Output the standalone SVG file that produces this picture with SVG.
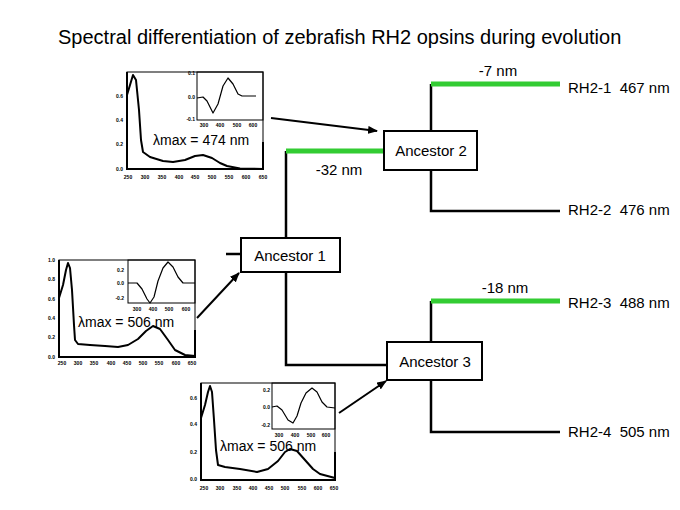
<svg xmlns="http://www.w3.org/2000/svg" width="680" height="510" viewBox="0 0 680 510">
<defs>
<marker id="ah" markerWidth="10" markerHeight="8" refX="9" refY="4" orient="auto" markerUnits="userSpaceOnUse">
<path d="M0,0 L10,4 L0,8 Z" fill="#000"/>
</marker>
<style>
text{font-family:"Liberation Sans",Arial,sans-serif;fill:#000}
.title{font-size:20px}
.lbl{font-size:15px}
.node{font-size:15px;text-anchor:middle}
.lam{font-size:14px}
.tk{font-size:5px;font-weight:bold}
.tkr{font-size:5px;font-weight:bold;text-anchor:end}
.tkm{font-size:5px;font-weight:bold;text-anchor:middle}
.frame{fill:none;stroke:#000;stroke-width:1}
.axis{fill:none;stroke:#000;stroke-width:2}
.curve{fill:none;stroke:#000;stroke-width:2;stroke-linejoin:round}
.icurve{fill:none;stroke:#000;stroke-width:1.2;stroke-linejoin:round}
.box{fill:#fff;stroke:#000;stroke-width:2}
.br{fill:none;stroke:#000;stroke-width:2.5}
.gr{fill:none;stroke:#33cc33;stroke-width:5}
.arr{fill:none;stroke:#000;stroke-width:2;marker-end:url(#ah)}
</style>
</defs>
<rect width="680" height="510" fill="#fff"/>
<text class="title" x="58" y="44">Spectral differentiation of zebrafish RH2 opsins during evolution</text>

<g id="connectors">
<path class="br" d="M286,151 V238"/>
<path class="gr" d="M286,151 H384"/>
<path class="br" d="M286,272 V365 H387"/>
<path class="br" d="M226,254 H241"/>
<path class="br" d="M431,131 V84"/>
<path class="gr" d="M431,84 H560"/>
<path class="br" d="M431,170 V211 H560"/>
<path class="br" d="M431,342 V301"/>
<path class="gr" d="M431,301 H560"/>
<path class="br" d="M431,380 V432 H560"/>
<path class="arr" d="M271,118 L377,131"/>
<path class="arr" d="M197,318 L239,273"/>
<path class="arr" d="M339,413 L386,381"/>
</g>

<g id="ancestor1"><rect class="box" x="241" y="238" width="99" height="34"/><text class="node" x="290" y="261">Ancestor 1</text></g>
<g id="ancestor2"><rect class="box" x="384" y="131" width="93" height="39"/><text class="node" x="431" y="156">Ancestor 2</text></g>
<g id="ancestor3"><rect class="box" x="387" y="342" width="95" height="38"/><text class="node" x="435" y="367">Ancestor 3</text></g>

<g id="labels">
<text class="lbl" x="498" y="76" text-anchor="middle">-7 nm</text>
<text class="lbl" x="339" y="175" text-anchor="middle">-32 nm</text>
<text class="lbl" x="505" y="293" text-anchor="middle">-18 nm</text>
</g>
<g id="rh2-1"><text class="lbl" x="568" y="93">RH2-1&#160; 467 nm</text></g>
<g id="rh2-2"><text class="lbl" x="568" y="215">RH2-2&#160; 476 nm</text></g>
<g id="rh2-3"><text class="lbl" x="568" y="308">RH2-3&#160; 488 nm</text></g>
<g id="rh2-4"><text class="lbl" x="568" y="437">RH2-4&#160; 505 nm</text></g>

<g id="chart-top">
<rect class="frame" x="127" y="72" width="136" height="97"/>
<path class="axis" d="M127,72 V169 H263 V142"/>
<rect class="frame" x="197" y="72" width="66" height="48"/>
<path class="curve" d="M127,95 L130,85 L133,75 L136,80 L139,110 L141,140 L143,152 L150,157 L163,161 L173,162 L185,160 L195,156 L203,155 L212,158 L220,163 L227,166 L240,168.5 L263,169"/>
<path class="icurve" d="M197,98 L203,97 L207,101 L213,113 L218,104 L223,86 L228,78 L233,84 L238,94 L242,96 L256,96"/>
<text class="lam" x="153" y="145">λmax = 474 nm</text>
<text class="tkr" x="123" y="98">0.6</text>
<text class="tkr" x="123" y="122">0.4</text>
<text class="tkr" x="123" y="146">0.2</text>
<text class="tkr" x="123" y="171">0.0</text>
<text class="tkm" x="128" y="179">250</text>
<text class="tkm" x="145" y="179">300</text>
<text class="tkm" x="162" y="179">350</text>
<text class="tkm" x="179" y="179">400</text>
<text class="tkm" x="195" y="179">450</text>
<text class="tkm" x="212" y="179">500</text>
<text class="tkm" x="229" y="179">550</text>
<text class="tkm" x="246" y="179">600</text>
<text class="tkm" x="263" y="179">650</text>
<text class="tkr" x="195" y="75">0.1</text>
<text class="tkr" x="195" y="99">0.0</text>
<text class="tkr" x="195" y="121">-0.1</text>
<text class="tkm" x="204" y="127">300</text>
<text class="tkm" x="220" y="127">400</text>
<text class="tkm" x="237" y="127">500</text>
<text class="tkm" x="253" y="127">600</text>
</g>

<g id="chart-middle">
<rect class="frame" x="59" y="260" width="136" height="97"/>
<path class="axis" d="M59,260 V357 H195 V330"/>
<rect class="frame" x="128" y="260" width="67" height="43"/>
<path class="curve" d="M59,298 L63,285 L66,270 L68,263 L70,268 L72,290 L74,325 L75,340 L78,344 L90,345 L105,346 L118,347 L128,345 L138,339 L146,331 L153,326 L160,329 L168,340 L175,350 L185,355 L195,356"/>
<path class="icurve" d="M128,283 L137,283 L142,289 L147,299 L150,303 L154,297 L158,281 L163,268 L168,262 L173,267 L178,277 L183,283 L195,283"/>
<text class="lam" x="78" y="327">λmax = 506 nm</text>
<text class="tkr" x="55" y="262">1.0</text>
<text class="tkr" x="55" y="281">0.8</text>
<text class="tkr" x="55" y="301">0.6</text>
<text class="tkr" x="55" y="320">0.4</text>
<text class="tkr" x="55" y="339">0.2</text>
<text class="tkr" x="55" y="359">0.0</text>
<text class="tkm" x="62" y="365">250</text>
<text class="tkm" x="78" y="365">300</text>
<text class="tkm" x="94" y="365">350</text>
<text class="tkm" x="111" y="365">400</text>
<text class="tkm" x="127" y="365">450</text>
<text class="tkm" x="143" y="365">500</text>
<text class="tkm" x="159" y="365">550</text>
<text class="tkm" x="176" y="365">600</text>
<text class="tkm" x="192" y="365">650</text>
<text class="tkr" x="124" y="272">0.2</text>
<text class="tkr" x="124" y="285">0.0</text>
<text class="tkr" x="124" y="300">-0.2</text>
<text class="tkm" x="137" y="311">300</text>
<text class="tkm" x="153" y="311">400</text>
<text class="tkm" x="169" y="311">500</text>
<text class="tkm" x="186" y="311">600</text>
</g>

<g id="chart-bottom">
<rect class="frame" x="201" y="383" width="134" height="97"/>
<path class="axis" d="M201,383 V480 H335 V452"/>
<rect class="frame" x="272" y="383" width="63" height="46"/>
<path class="curve" d="M201,418 L205,405 L208,392 L210,386 L212,392 L214,420 L216,450 L218,465 L225,467 L240,469 L257,472 L268,469 L278,461 L285,452 L290,449 L297,451 L305,460 L313,469 L320,474 L335,478"/>
<path class="icurve" d="M272,407 L277,406 L282,410 L288,420 L293,423 L297,416 L301,403 L306,393 L312,388 L317,392 L322,402 L327,407 L335,408"/>
<text class="lam" x="220" y="451">λmax = 506 nm</text>
<text class="tkr" x="197" y="400">0.6</text>
<text class="tkr" x="197" y="426">0.4</text>
<text class="tkr" x="197" y="454">0.2</text>
<text class="tkr" x="197" y="481">0.0</text>
<text class="tkm" x="204" y="490">250</text>
<text class="tkm" x="220" y="490">300</text>
<text class="tkm" x="237" y="490">350</text>
<text class="tkm" x="253" y="490">400</text>
<text class="tkm" x="269" y="490">450</text>
<text class="tkm" x="285" y="490">500</text>
<text class="tkm" x="302" y="490">550</text>
<text class="tkm" x="318" y="490">600</text>
<text class="tkm" x="334" y="490">650</text>
<text class="tkr" x="270" y="392">0.2</text>
<text class="tkr" x="270" y="409">0.0</text>
<text class="tkr" x="270" y="427">-0.2</text>
<text class="tkm" x="279" y="437">300</text>
<text class="tkm" x="295" y="437">400</text>
<text class="tkm" x="311" y="437">500</text>
<text class="tkm" x="326" y="437">600</text>
</g>
</svg>
